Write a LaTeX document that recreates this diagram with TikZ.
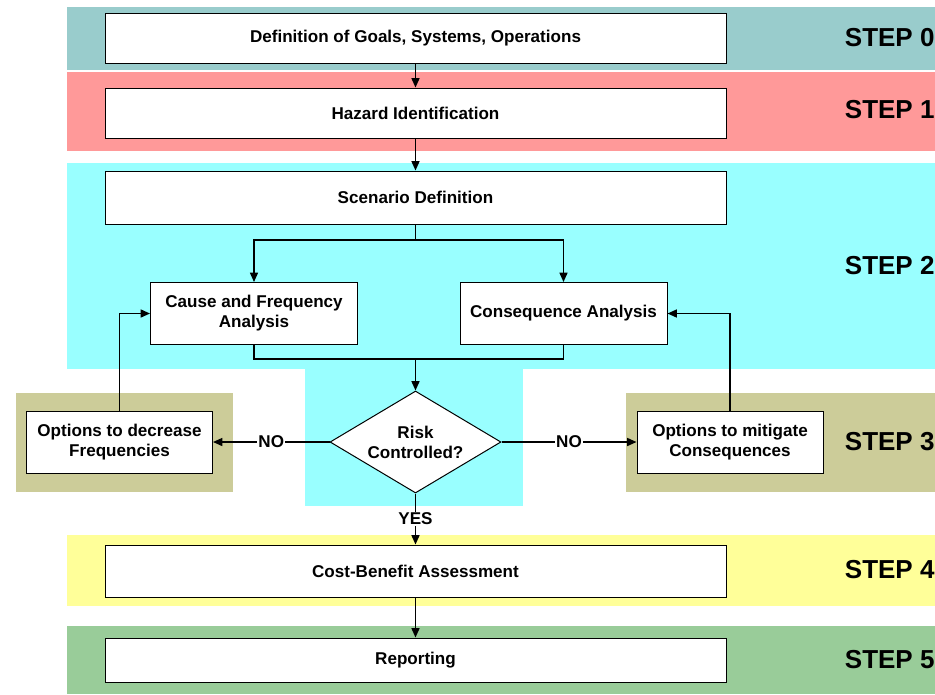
\documentclass[tikz,border=0pt]{standalone}
\usepackage{fontspec}
\setmainfont{Liberation Sans}
\usetikzlibrary{shapes.geometric,arrows.meta}

\definecolor{bandzero}{HTML}{99CCCC}
\definecolor{bandone}{HTML}{FF9999}
\definecolor{bandtwo}{HTML}{99FFFF}
\definecolor{bandthree}{HTML}{CCCC99}
\definecolor{bandfour}{HTML}{FFFF99}
\definecolor{bandfive}{HTML}{99CC99}

\tikzset{every picture/.style={line width=0.75pt}}
\tikzset{
  flowbox/.style={draw, fill=white, line width=0.75pt, align=center, inner sep=0pt,
    font=\bfseries\fontsize{12.8}{15}\selectfont},
  widebox/.style={flowbox, minimum width=465.75pt},
  halfbox/.style={flowbox, minimum width=155.25pt, minimum height=46.5pt},
  optbox/.style={flowbox, minimum width=139.5pt, minimum height=46.5pt},
  steplabel/.style={anchor=east, inner sep=0pt, font=\bfseries\fontsize{19.5}{22}\selectfont},
  flowarrow/.style={line width=1.1pt, -{Triangle[length=7pt,width=6pt]}},
  answer/.style={fill=white, inner sep=1pt, font=\bfseries\fontsize{12.8}{15}\selectfont}
}

\begin{document}
\begin{tikzpicture}[x=0.75pt,y=0.75pt,yscale=-1,xscale=1]
\path[use as bounding box] (0,0) rectangle (935,694);

%Shape: Rectangle [band step 0]
\fill[bandzero] (67,7) rectangle (935,70);
%Shape: Rectangle [band step 1]
\fill[bandone] (67,72) rectangle (935,151);
%Shape: Rectangle [band step 2]
\fill[bandtwo] (67,163) rectangle (935,369);
\fill[bandtwo] (305,369) rectangle (523,506);
%Shape: Rectangle [band step 3]
\fill[bandthree] (16,393) rectangle (233,492);
\fill[bandthree] (626,393) rectangle (935,492);
%Shape: Rectangle [band step 4]
\fill[bandfour] (67,535) rectangle (935,606);
%Shape: Rectangle [band step 5]
\fill[bandfive] (67,626) rectangle (935,694);

% Text Node
\draw (415.5,38) node [widebox, minimum height=37.5pt] (goals) {Definition of Goals, Systems, Operations};
% Text Node
\draw (415.5,113) node [widebox, minimum height=37.5pt] (hazard) {Hazard Identification};
% Text Node
\draw (415.5,197.5) node [widebox, minimum height=39.75pt] (scenario) {Scenario Definition};
% Text Node
\draw (254,313.5) node [halfbox] (cause) {Cause and Frequency\\Analysis};
% Text Node
\draw (563.5,313.5) node [halfbox] (conseq) {Consequence Analysis};
% Text Node
\draw (415.5,442) node [draw, fill=white, diamond, aspect=1.7, inner sep=0pt, line width=0.75pt,
  minimum width=128.25pt, minimum height=76.5pt, align=center,
  font=\bfseries\fontsize{12.8}{15}\selectfont] (risk) {Risk\\Controlled?};
% Text Node
\draw (119.5,442) node [optbox] (decrease) {Options to decrease\\Frequencies};
% Text Node
\draw (730,442) node [optbox] (mitigate) {Options to mitigate\\Consequences};
% Text Node
\draw (415.5,571) node [widebox, minimum height=39pt] (costben) {Cost-Benefit Assessment};
% Text Node
\draw (415.5,660) node [widebox, minimum height=33pt] (report) {Reporting};

\coordinate (split) at (415.5,240);
\coordinate (join) at (415.5,359);

%Straight Lines [connectors]
\draw[flowarrow] (goals) -- (hazard);
\draw[flowarrow] (hazard) -- (scenario);
\draw[line width=1.1pt] (scenario.south) -- (split);
\draw[flowarrow] (split) -| (cause.north);
\draw[flowarrow] (split) -| (conseq.north);
\draw[line width=1.1pt] (cause.south) |- (join) -| (conseq.south);
\draw[flowarrow] (join) -- (risk.north);
\draw[flowarrow] (risk.west) -- node[answer] {NO} (decrease.east);
\draw[flowarrow] (risk.east) -- node[answer] {NO} (mitigate.west);
\draw[flowarrow] (decrease.north) |- (cause.west);
\draw[flowarrow] (mitigate.north) |- (conseq.east);
\draw[flowarrow] (risk.south) -- node[answer] {YES} (costben.north);
\draw[flowarrow] (costben) -- (report);

% Text Node
\draw (935,38) node [steplabel] (s0) {STEP 0};
% Text Node
\draw (935,110) node [steplabel] (s1) {STEP 1};
% Text Node
\draw (935,266) node [steplabel] (s2) {STEP 2};
% Text Node
\draw (935,442) node [steplabel] (s3) {STEP 3};
% Text Node
\draw (935,570) node [steplabel] (s4) {STEP 4};
% Text Node
\draw (935,660) node [steplabel] (s5) {STEP 5};

\end{tikzpicture}
\end{document}
